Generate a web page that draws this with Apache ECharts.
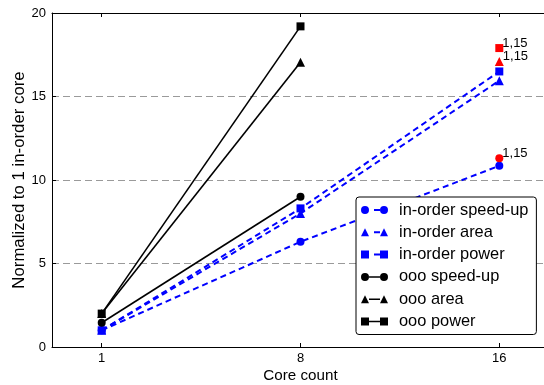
<!DOCTYPE html>
<html><head><meta charset="utf-8">
<script src="https://cdn.jsdelivr.net/npm/echarts@6/dist/echarts.min.js"></script>
<style>html,body{margin:0;padding:0;background:#fff}#c{width:544px;height:385px}</style>
</head><body><div id="c"></div>
<script>
// ---- data ----
const coreCounts = ['1', '8', '16'];
const yTicks = [0, 5, 10, 15, 20];
const seriesNames = ['in-order speed-up', 'in-order area', 'in-order power', 'ooo speed-up', 'ooo area', 'ooo power'];
const inorderSpeedup = [1.0, 6.3, 10.85];
const inorderArea = [1.0, 8.0, 15.95];
const inorderPower = [1.0, 8.3, 16.5];
const oooSpeedup = [1.45, 9.0];
const oooArea = [2.0, 17.05];
const oooPower = [2.0, 19.2];
// heterogeneous config (1 ooo + 15 in-order) at 16 cores
const mixLabel = '1,15';
const mixSpeedup = [11.3];
const mixArea = [17.1];
const mixPower = [17.9];

const FONT = '"Liberation Sans", Arial, Helvetica, sans-serif';
const BLUE = '#0000ff', BLACK = '#000000', RED = '#ff0000';
const tickIdx = coreCounts.map((_, i) => i);
const toXY = arr => arr.map((v, i) => [i, v]);

const circ = (x) => `M${x},4a4,4 0 1,0 8,0a4,4 0 1,0 -8,0Z`;
const tri = (x) => `M${x},8L${x+4},0L${x+8},8Z`;
const sq = (x) => `M${x},0H${x+8}V8H${x}Z`;
const solidSeg = 'M8,3.25H19V4.75H8Z';
const dashSeg = 'M13,3H19V5H13Z';
const icons = [
  'path://' + circ(0) + circ(19) + dashSeg,
  'path://' + tri(0) + tri(19) + dashSeg,
  'path://' + sq(0) + sq(19) + dashSeg,
  'path://' + circ(0) + circ(19) + solidSeg,
  'path://' + tri(0) + tri(19) + solidSeg,
  'path://' + sq(0) + sq(19) + solidSeg
];

function lineSeries(name, data, color, symbol, size, dashed) {
  return {
    name, type: 'line', data: toXY(data), symbol, symbolSize: size,
    itemStyle: { color, borderWidth: 0, opacity: 1 },
    lineStyle: { color, width: dashed ? 2 : 1.6, type: dashed ? [6, 4] : 'solid' },
    emphasis: { disabled: true }, z: dashed ? 2 : 3
  };
}
function mixSeries(data, symbol, size) {
  return {
    type: 'scatter', data: data.map(v => [coreCounts.length - 1, v]), symbol, symbolSize: size,
    itemStyle: { color: RED, opacity: 1 }, z: 4,
    emphasis: { disabled: true },
    label: { show: true, position: 'right', distance: 0, offset: [-1, -5], formatter: mixLabel,
      color: BLACK, fontSize: 13, fontFamily: FONT }
  };
}

const chart = echarts.init(document.getElementById('c'));
chart.setOption({
  animation: false,
  backgroundColor: '#fff',
  textStyle: { fontFamily: FONT },
  grid: { left: 52, top: 13, bottom: 38, width: 497, containLabel: false, outerBoundsMode: 'none' },
  legend: {
    orient: 'vertical', left: 356, top: 197,
    data: seriesNames.map((n, i) => ({ name: n, icon: icons[i] })),
    itemWidth: 27, itemHeight: 8, itemGap: 6.3,
    padding: [5, 8, 5, 5],
    backgroundColor: '#fff', borderColor: '#000', borderWidth: 1, borderRadius: 3,
    itemStyle: { borderWidth: 0 },
    textStyle: { fontSize: 16.4, color: '#000', fontFamily: FONT, lineHeight: 16, padding: [0, 0, 0, 6] },
    selectedMode: false
  },
  xAxis: [{
    type: 'value', min: -0.25, max: 2.25, position: 'bottom',
    name: 'Core count', nameLocation: 'middle', nameGap: 21, nameMoveOverlap: false,
    nameTextStyle: { fontSize: 15.2, color: '#000', fontFamily: FONT },
    axisLine: { show: true, onZero: false, lineStyle: { color: '#000', width: 1 } },
    axisTick: { show: true, inside: true, length: 4, customValues: tickIdx, lineStyle: { color: '#000' } },
    axisLabel: { customValues: tickIdx, formatter: v => coreCounts[Math.round(v)], fontSize: 13, color: '#000', margin: 5, fontFamily: FONT },
    splitLine: { show: false }
  }, {
    type: 'value', min: -0.25, max: 2.25, position: 'top',
    axisLine: { show: true, onZero: false, lineStyle: { color: '#000', width: 1 } },
    axisTick: { show: true, inside: true, length: 4, customValues: tickIdx, lineStyle: { color: '#000' } },
    axisLabel: { show: false },
    splitLine: { show: false }
  }],
  yAxis: {
    type: 'value', min: yTicks[0], max: yTicks[yTicks.length - 1], interval: yTicks[1] - yTicks[0],
    position: 'left',
    name: 'Normalized to 1 in-order core', nameLocation: 'middle', nameGap: 24, nameMoveOverlap: false,
    nameTextStyle: { fontSize: 16.8, color: '#000', fontFamily: FONT },
    axisLine: { show: true, onZero: false, lineStyle: { color: '#000', width: 1 } },
    axisTick: { show: true, inside: true, length: 4, lineStyle: { color: '#000' } },
    axisLabel: { fontSize: 13, color: '#000', margin: 6, fontFamily: FONT },
    splitLine: { show: true, lineStyle: { color: '#9a9a9a', width: 1, type: [7, 4] } }
  },
  series: [
    lineSeries(seriesNames[0], inorderSpeedup, BLUE, 'circle', 8, true),
    lineSeries(seriesNames[1], inorderArea, BLUE, 'triangle', 9, true),
    lineSeries(seriesNames[2], inorderPower, BLUE, 'rect', 8, true),
    lineSeries(seriesNames[3], oooSpeedup, BLACK, 'circle', 8, false),
    lineSeries(seriesNames[4], oooArea, BLACK, 'triangle', 9, false),
    lineSeries(seriesNames[5], oooPower, BLACK, 'rect', 8, false),
    mixSeries(mixSpeedup, 'circle', 8),
    mixSeries(mixArea, 'triangle', 9),
    mixSeries(mixPower, 'rect', 8)
  ]
});
</script>
</body></html>
